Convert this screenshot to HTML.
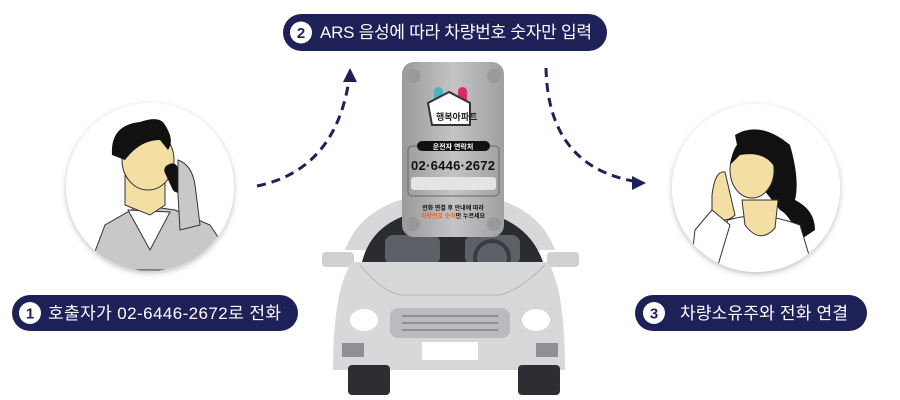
<!DOCTYPE html>
<html><head><meta charset="utf-8"><style>
html,body{margin:0;padding:0;background:#fff;width:900px;height:400px;overflow:hidden}
svg{display:block}
text{font-family:"Liberation Sans","Noto Sans CJK KR",sans-serif}
</style></head><body>
<svg width="900" height="400" viewBox="0 0 900 400">
<defs>
<filter id="sh" x="-20%" y="-20%" width="140%" height="140%"><feDropShadow dx="0" dy="2" stdDeviation="3" flood-color="#000" flood-opacity="0.25"/></filter>
<linearGradient id="pl" x1="0" x2="1"><stop offset="0" stop-color="#9a9a9c"/><stop offset="0.5" stop-color="#c4c4c6"/><stop offset="1" stop-color="#a0a0a2"/></linearGradient>
<clipPath id="c1"><circle cx="150" cy="187" r="84"/></clipPath>
<clipPath id="c3"><circle cx="756" cy="188" r="84"/></clipPath>
</defs>

<circle cx="150" cy="187" r="84" fill="#fff" filter="url(#sh)"/>
<g clip-path="url(#c1)">
 <path d="M88 270 L105 225 L140 205 L175 210 L210 225 L240 270 Z" fill="#c8c8c8" stroke="#333" stroke-width="1"/>
 <path d="M128 210 L150 250 L170 212 Z" fill="#fff" stroke="#333"/>
 <path d="M125 175 L125 205 L150 215 L165 205 L165 180 Z" fill="#f3dea3" stroke="#333"/>
 <ellipse cx="148" cy="160" rx="26" ry="30" fill="#f3dea3" stroke="#333"/>
 <path d="M112 155 Q110 125 140 122 Q160 115 165 125 Q175 140 168 150 L160 140 Q140 140 125 160 Z" fill="#111"/>
 <rect x="168" y="163" width="14" height="30" rx="6" fill="#111" transform="rotate(-25 175 178)"/>
 <path d="M178 160 Q192 165 195 185 L200 225 L180 230 L178 195 Z" fill="#c8c8c8" stroke="#333"/>
</g>
<circle cx="756" cy="188" r="84" fill="#fff" filter="url(#sh)"/>
<g clip-path="url(#c3)">
 <path d="M735 135 Q760 120 790 145 Q800 180 795 200 Q815 210 815 230 L800 240 Q790 215 780 210 L740 160 Z" fill="#111"/>
 <path d="M728 220 Q760 210 800 225 L815 275 L700 275 Z" fill="#fff" stroke="#333"/>
 <path d="M742 200 L745 225 Q760 245 775 228 L778 200 Z" fill="#f3dea3" stroke="#333"/>
 <ellipse cx="752" cy="170" rx="22" ry="28" fill="#f3dea3" stroke="#333"/>
 <path d="M730 165 Q735 130 765 135 Q790 140 788 175 L778 175 Q770 150 740 155 Z" fill="#111"/>
 <path d="M712 195 Q715 170 725 172 L735 215 Q725 225 712 215 Z" fill="#f3dea3" stroke="#333"/>
 <path d="M695 230 L712 210 L730 225 L715 275 L690 275 Z" fill="#fff" stroke="#333"/>
</g>

<path d="M257 186 Q335 170 349 80" fill="none" stroke="#1e2058" stroke-width="3" stroke-dasharray="9 6"/>
<polygon points="350,68 343,82 357,82" fill="#1e2058"/>
<path d="M546 68 Q548 165 633 181" fill="none" stroke="#1e2058" stroke-width="3" stroke-dasharray="9 6"/>
<polygon points="646,183 632,176 632,190" fill="#1e2058"/>

<!-- car -->
<path d="M345 250 Q365 195 450 192 Q535 195 555 250 Z" fill="#d7d8da"/>
<path d="M362 262 Q375 210 450 208 Q525 210 543 262 Z" fill="#2b2c30"/>
<rect x="385" y="235" width="55" height="30" rx="8" fill="#5d6067"/>
<rect x="465" y="235" width="55" height="30" rx="8" fill="#5d6067"/>
<circle cx="492" cy="258" r="17" fill="none" stroke="#3a3b40" stroke-width="4"/>
<rect x="322" y="252" width="32" height="15" rx="4" fill="#d0d1d3"/>
<rect x="547" y="252" width="32" height="15" rx="4" fill="#d0d1d3"/>
<path d="M352 262 L548 262 Q565 290 565 370 L333 370 Q333 290 352 262 Z" fill="#d7d8da"/>
<path d="M360 265 Q380 290 400 295 L500 295 Q520 290 545 265" fill="none" stroke="#b4b6ba" stroke-width="1"/>
<rect x="390" y="308" width="120" height="30" rx="8" fill="#b9bbbf"/>
<line x1="402" y1="316" x2="498" y2="316" stroke="#8e9095" stroke-width="2"/>
<line x1="402" y1="323" x2="498" y2="323" stroke="#8e9095" stroke-width="2"/>
<line x1="402" y1="330" x2="498" y2="330" stroke="#8e9095" stroke-width="2"/>
<ellipse cx="364" cy="320" rx="14" ry="11" fill="#fff"/>
<ellipse cx="536" cy="320" rx="14" ry="11" fill="#fff"/>
<rect x="342" y="343" width="22" height="14" fill="#8e9095"/>
<rect x="536" y="343" width="22" height="14" fill="#8e9095"/>
<rect x="422" y="342" width="56" height="18" fill="#fff"/>
<rect x="348" y="365" width="42" height="30" rx="4" fill="#2d2e32"/>
<rect x="518" y="365" width="42" height="30" rx="4" fill="#2d2e32"/>

<!-- plate -->
<rect x="402" y="62" width="102" height="175" rx="12" fill="url(#pl)"/>
<circle cx="413" cy="76" r="7" fill="#999"/><circle cx="494" cy="76" r="7" fill="#999"/>
<circle cx="413" cy="224" r="7" fill="#999"/><circle cx="494" cy="224" r="7" fill="#999"/>
<rect x="434" y="87" width="9" height="18" rx="4.5" fill="#4bb3c4"/>
<rect x="446" y="91" width="9" height="14" rx="4.5" fill="#f3a531"/>
<rect x="458" y="87" width="9" height="18" rx="4.5" fill="#d62a6b"/>
<path d="M428 103 L449 92 L470 103 V125 H432 Z" fill="#fff" stroke="#333" stroke-width="2"/>
<text x="436" y="120" font-size="9" font-weight="700" fill="#222">행복아파트</text>
<rect x="408" y="146" width="91" height="50" rx="4" fill="none" stroke="#666"/>
<rect x="417" y="141" width="73" height="10" rx="5" fill="#111"/>
<text x="453" y="149" font-size="7" fill="#fff" text-anchor="middle" font-weight="700">운전자 연락처</text>
<text x="453" y="170" font-size="13" font-weight="700" fill="#111" text-anchor="middle" textLength="84">02·6446·2672</text>
<rect x="411" y="177" width="85" height="13" rx="3" fill="#e4e4e6"/>
<text x="453" y="210" font-size="6" fill="#111" text-anchor="middle" font-weight="700">전화 연결 후 안내에 따라</text>
<text x="453" y="218" font-size="6" fill="#111" text-anchor="middle" font-weight="700"><tspan fill="#e8652a">차량번호 숫자</tspan>만 누르세요</text>

<!-- pills -->
<rect x="283" y="14" width="324" height="37" rx="18.5" fill="#1e2058"/>
<circle cx="301" cy="32.5" r="11" fill="#fff"/>
<text x="301" y="38" font-size="15" font-weight="700" fill="#1e2058" text-anchor="middle">2</text>
<text x="320" y="38" font-size="17" fill="#fff" textLength="272">ARS 음성에 따라 차량번호 숫자만 입력</text>

<rect x="12" y="295" width="286" height="36" rx="18" fill="#1e2058"/>
<circle cx="30" cy="313" r="11" fill="#fff"/>
<text x="30" y="318.5" font-size="15" font-weight="700" fill="#1e2058" text-anchor="middle">1</text>
<text x="48" y="319" font-size="17" fill="#fff" textLength="233">호출자가 02-6446-2672로 전화</text>

<rect x="635" y="295" width="232" height="36" rx="18" fill="#1e2058"/>
<circle cx="654" cy="313" r="11" fill="#fff"/>
<text x="654" y="318.5" font-size="15" font-weight="700" fill="#1e2058" text-anchor="middle">3</text>
<text x="680" y="319" font-size="17" fill="#fff" textLength="168">차량소유주와 전화 연결</text>
</svg>
</body></html>
